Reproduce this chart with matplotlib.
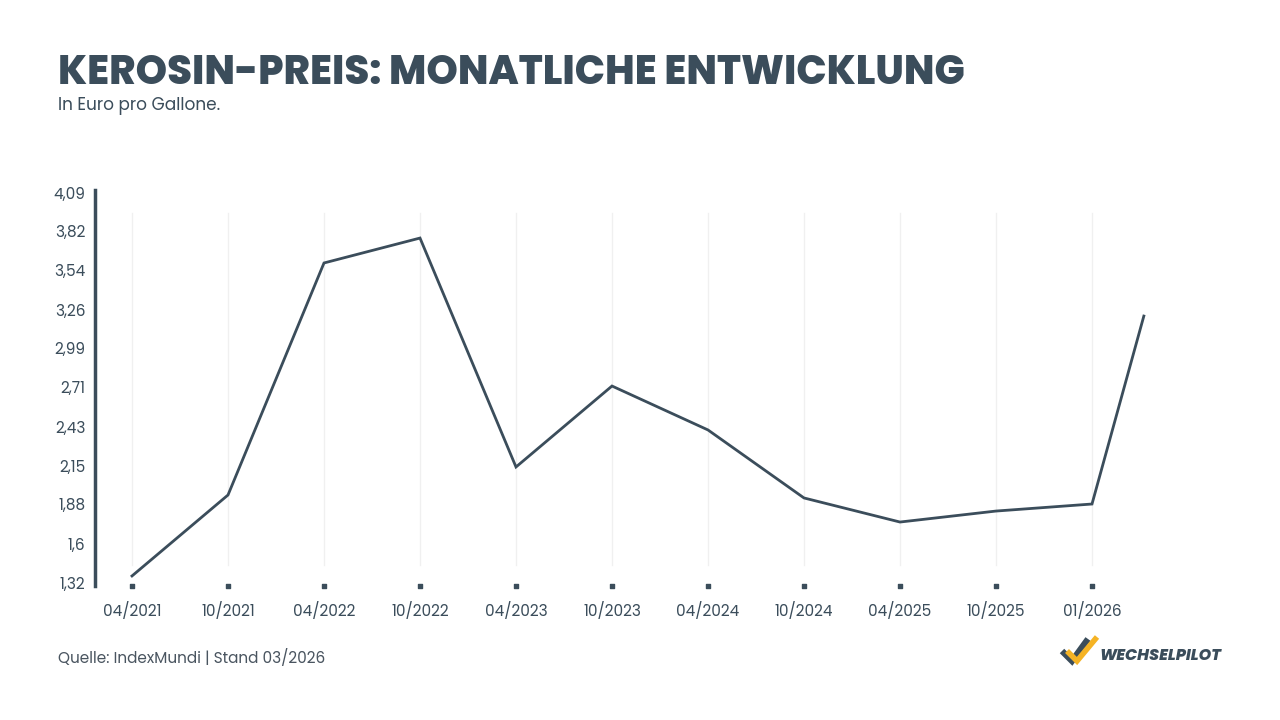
import numpy as np
import matplotlib.pyplot as plt

# data
labels = ['04/2021', '10/2021', '04/2022', '10/2022', '04/2023', '10/2023',
          '04/2024', '10/2024', '04/2025', '10/2025', '01/2026']
preis = [1.37, 1.945, 3.593, 3.77, 2.144, 2.719, 2.407, 1.924, 1.753, 1.831, 1.881, 3.216]
pos = list(range(len(labels))) + [10.54]
yticks = [1.32, 1.6, 1.88, 2.15, 2.43, 2.71, 2.99, 3.26, 3.54, 3.82, 4.09]

dark = '#3b4d5b'
plt.rcParams['font.family'] = ['Poppins', 'Inter', 'DejaVu Sans']

fig = plt.figure(figsize=(12.8, 7.2), dpi=100)
ax = fig.add_axes([95/1280, (720-583)/720, (1190-95)/1280, 390/720])

for x in range(len(labels)):
    ax.axvline(x, ymin=0.046, ymax=0.949, color='#f0f0f0', lw=1, zorder=0)

ax.plot(pos, preis, color=dark, lw=2, solid_joinstyle='miter', zorder=3)

ax.set_xlim(-37/96, (1190-132)/96)
ax.set_ylim(1.32, 4.09)
ax.set_yticks(yticks)
ax.set_yticklabels([('%g' % v).replace('.', ',') for v in yticks])
ax.set_xticks(range(len(labels)))
ax.set_xticklabels(labels)
ax.tick_params(axis='y', length=0, pad=7, labelsize=11, labelcolor=dark)
ax.tick_params(axis='x', length=0, pad=14, labelsize=11, labelcolor=dark)

for s in ['top', 'right', 'bottom']:
    ax.spines[s].set_visible(False)
ax.spines['left'].set_color(dark)
ax.spines['left'].set_linewidth(2.5)
ax.spines['left'].set_bounds(1.30, 4.11)

# small square markers under each category
trans = ax.get_xaxis_transform()
ax.scatter(range(len(labels)), [-0.008] * len(labels), marker='s', s=12,
           color=dark, transform=trans, clip_on=False, zorder=4)

fig.text(58/1280, 1 - 84/720, 'KEROSIN-PREIS: MONATLICHE ENTWICKLUNG',
         fontsize=28.8, fontweight='heavy', color=dark, va='baseline')
fig.text(58/1280, 1 - 110/720, 'In Euro pro Gallone.', fontsize=12.2,
         color=dark, va='baseline')
fig.text(58/1280, 1 - 663/720, 'Quelle: IndexMundi | Stand 03/2026',
         fontsize=11, color='#4a5560', va='baseline')

# logo, drawn on an overlay in pixel coordinates
lg = fig.add_axes([0, 0, 1, 1], zorder=5)
lg.set_xlim(0, 1280)
lg.set_ylim(720, 0)
lg.axis('off')
lg.patch.set_alpha(0)
lg.plot([1062, 1072, 1088], [651, 661, 639], color=dark, lw=4.5,
        solid_capstyle='butt', solid_joinstyle='miter')
lg.plot([1067, 1077, 1097], [651, 661, 637], color='#f5b324', lw=4,
        solid_capstyle='butt', solid_joinstyle='miter')
lg.text(1099, 660, 'WECHSELPILOT', fontsize=11.5, fontweight='heavy',
        style='italic', color=dark, va='baseline')

fig.savefig('out.png', dpi=100, facecolor='white')
